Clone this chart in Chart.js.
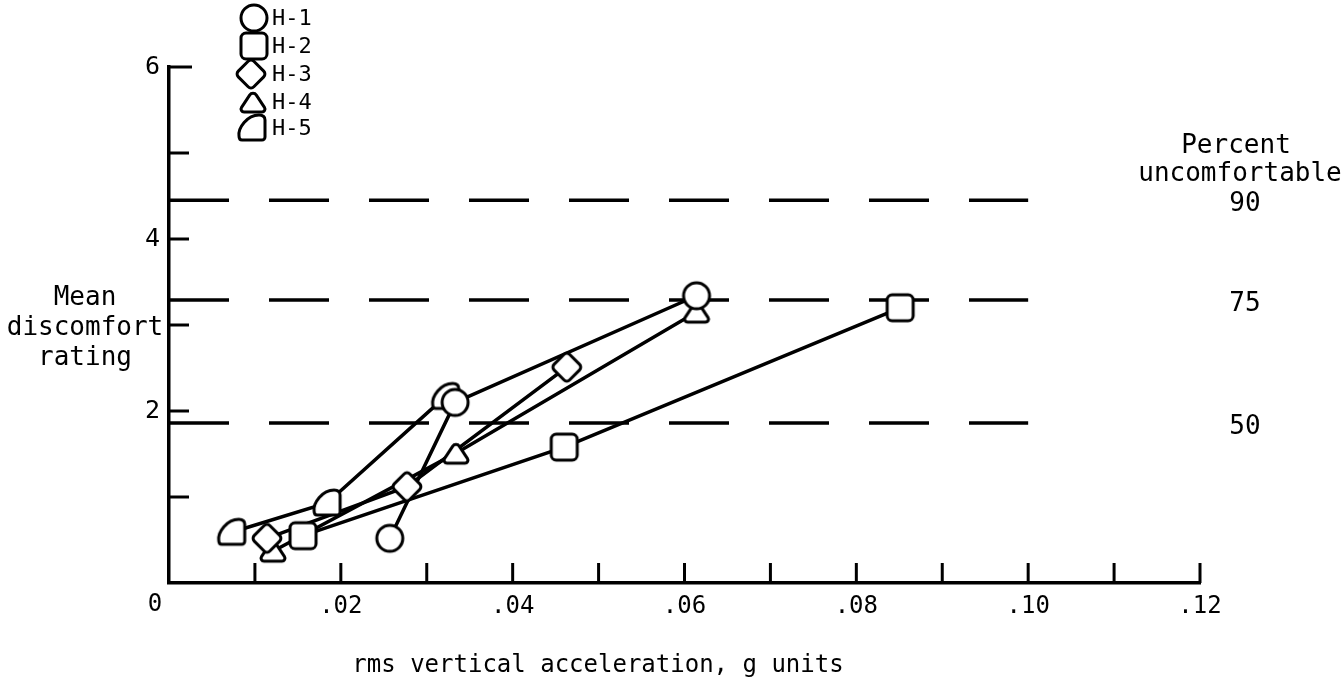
<!DOCTYPE html>
<html>
<head>
<meta charset="utf-8">
<script src="https://cdn.jsdelivr.net/npm/chart.js@4.4.0/dist/chart.umd.min.js"></script>
<style>
html, body { margin: 0; padding: 0; background: #fff; }
</style>
</head>
<body>
<canvas id="chart" width="1344" height="677"></canvas>
<script>
// series (x = rms vertical acceleration, y = mean discomfort rating)
const seriesNames = ['H-1', 'H-2', 'H-3', 'H-4', 'H-5'];
const h1X = [0.0257, 0.0333, 0.0614];
const h1Y = [0.52, 2.10, 3.34];
const h2X = [0.0156, 0.0460, 0.0851];
const h2Y = [0.55, 1.58, 3.20];
const h3X = [0.0114, 0.0277, 0.0463];
const h3Y = [0.52, 1.12, 2.51];
const h4X = [0.0121, 0.0334, 0.0614];
const h4Y = [0.37, 1.51, 3.15];
const h5X = [0.0073, 0.0184, 0.0322];
const h5Y = [0.59, 0.93, 2.17];

// percent-uncomfortable reference levels
const percentLabels = ['90', '75', '50'];
const percentLevels = [4.45, 3.29, 1.86];
const levelFrom = 0;
const levelTo = 0.1;

const xTickValues = [0, 0.01, 0.02, 0.03, 0.04, 0.05, 0.06, 0.07, 0.08, 0.09, 0.10, 0.11, 0.12];
const yTickValues = [0, 1, 2, 3, 4, 5, 6];
const yLabelled = [2, 4, 6];

const fontFamily = '"DejaVu Sans Mono", monospace';
const markerKinds = ['circle', 'square', 'diamond', 'triangle', 'blob'];

function makeMarker(kind) {
	const size = 38;
	const c = document.createElement('canvas');
	c.width = size;
	c.height = size;
	const g = c.getContext('2d');
	g.lineWidth = 3;
	g.strokeStyle = '#000';
	g.fillStyle = '#fff';
	g.lineJoin = 'round';
	g.translate(size / 2, size / 2);
	g.beginPath();
	if (kind === 'circle') {
		g.arc(0, 0, 13, 0, Math.PI * 2);
	} else if (kind === 'square') {
		g.roundRect(-13, -13, 26, 26, 5);
	} else if (kind === 'diamond') {
		g.rotate(Math.PI / 4);
		g.roundRect(-11, -11, 22, 22, 4);
	} else if (kind === 'triangle') {
		g.moveTo(0, 10);
		g.arcTo(14.5, 10, 0, -12, 3);
		g.arcTo(0, -12, -14.5, 10, 4);
		g.arcTo(-14.5, 10, 14.5, 10, 3);
		g.closePath();
	} else {
		g.moveTo(-10, 12);
		g.lineTo(10, 12);
		g.arcTo(13, 12, 13, 9, 3);
		g.lineTo(13, -8);
		g.quadraticCurveTo(13, -13, 7, -13);
		g.bezierCurveTo(-5, -13, -14, 0, -13, 8);
		g.quadraticCurveTo(-13, 12, -10, 12);
		g.closePath();
	}
	g.fill();
	g.stroke();
	return c;
}
const markers = markerKinds.map(makeMarker);

const toPoints = (xs, ys) => xs.map((x, i) => ({ x, y: ys[i] }));
const seriesData = [
	toPoints(h1X, h1Y),
	toPoints(h2X, h2Y),
	toPoints(h3X, h3Y),
	toPoints(h4X, h4Y),
	toPoints(h5X, h5Y)
];

const datasets = [];
percentLevels.forEach((level, i) => {
	datasets.push({
		label: `level-${percentLabels[i]}`,
		data: [{ x: levelFrom, y: level }, { x: levelTo, y: level }],
		borderColor: '#000',
		borderWidth: 3.5,
		borderDash: [60, 40],
		pointRadius: 0,
		order: 3
	});
});
seriesData.forEach((data, i) => {
	// connecting lines first, markers on top of every line
	datasets.push({
		label: `${seriesNames[i]}-line`,
		data,
		borderColor: '#000',
		borderWidth: 3.5,
		pointRadius: 0,
		order: 2
	});
	datasets.push({
		label: seriesNames[i],
		data,
		showLine: false,
		pointStyle: markers[i],
		order: 1
	});
});

// the origin "0" sits left of the corner, drawn separately below
const xLabel = value => {
	const n = Math.round(value * 100);
	if (n % 2 || n === 0) return '';
	return '.' + String(n).padStart(2, '0');
};

const innerTicks = {
	id: 'innerTicks',
	beforeDatasetsDraw(chart) {
		const { ctx, chartArea, scales } = chart;
		ctx.save();
		ctx.strokeStyle = '#000';
		ctx.lineWidth = 3;
		scales.x.ticks.forEach(t => {
			if (t.value === 0) return;
			const px = scales.x.getPixelForValue(t.value);
			ctx.beginPath();
			ctx.moveTo(px, chartArea.bottom);
			ctx.lineTo(px, chartArea.bottom - 20);
			ctx.stroke();
		});
		scales.y.ticks.forEach(t => {
			if (t.value === 0) return;
			const py = scales.y.getPixelForValue(t.value);
			ctx.beginPath();
			ctx.moveTo(chartArea.left, py);
			ctx.lineTo(chartArea.left + (t.value === 6 ? 23 : 20), py);
			ctx.stroke();
		});
		ctx.restore();
	}
};

const annotations = {
	id: 'annotations',
	afterDraw(chart) {
		const { ctx, scales, chartArea } = chart;
		ctx.save();
		ctx.fillStyle = '#000';
		ctx.textBaseline = 'middle';
		ctx.textAlign = 'center';
		ctx.font = `24px ${fontFamily}`;
		ctx.fillText('0', chartArea.left - 14, chartArea.bottom + 22);
		ctx.font = `26px ${fontFamily}`;
		ctx.fillText('Mean', 85, 298);
		ctx.fillText('discomfort', 85, 328);
		ctx.fillText('rating', 85, 358);
		ctx.fillText('Percent', 1236, 146);
		ctx.fillText('uncomfortable', 1240, 174);
		percentLabels.forEach((label, i) => {
			ctx.fillText(label, 1245, scales.y.getPixelForValue(percentLevels[i]) + 4);
		});
		ctx.font = `24px ${fontFamily}`;
		ctx.fillText('rms vertical acceleration, g units', 598, 666);

		// legend
		const rows = [18, 46, 74, 102, 128];
		const mx = [254, 254, 251, 253, 252];
		ctx.textAlign = 'left';
		ctx.font = `22px ${fontFamily}`;
		seriesNames.forEach((name, i) => {
			const m = markers[i];
			ctx.drawImage(m, mx[i] - m.width / 2, rows[i] - m.height / 2);
			ctx.fillText(name, 272, rows[i] + 1);
		});
		ctx.restore();
	}
};

new Chart(document.getElementById('chart'), {
	type: 'line',
	data: { datasets },
	options: {
		responsive: false,
		animation: false,
		layout: { padding: { top: 67, right: 144, left: 0, bottom: 0 } },
		plugins: {
			legend: { display: false },
			tooltip: { enabled: false }
		},
		scales: {
			x: {
				type: 'linear',
				min: 0,
				max: 0.12,
				afterBuildTicks: scale => { scale.ticks = xTickValues.map(value => ({ value })); },
				afterFit: scale => { scale.height = 94; },
				grid: { display: false, drawTicks: false },
				border: { display: true, color: '#000', width: 3.5 },
				ticks: {
					autoSkip: false,
					maxRotation: 0,
					padding: 9,
					color: '#000',
					font: { family: fontFamily, size: 24 },
					callback: xLabel
				}
			},
			y: {
				type: 'linear',
				min: 0,
				max: 6,
				afterBuildTicks: scale => { scale.ticks = yTickValues.map(value => ({ value })); },
				afterFit: scale => { scale.width = 169; },
				grid: { display: false, drawTicks: false },
				border: { display: true, color: '#000', width: 3.5 },
				ticks: {
					padding: 9,
					color: '#000',
					font: { family: fontFamily, size: 25 },
					callback: value => yLabelled.includes(value) ? String(value) : ''
				}
			}
		}
	},
	plugins: [innerTicks, annotations]
});
</script>
</body>
</html>
